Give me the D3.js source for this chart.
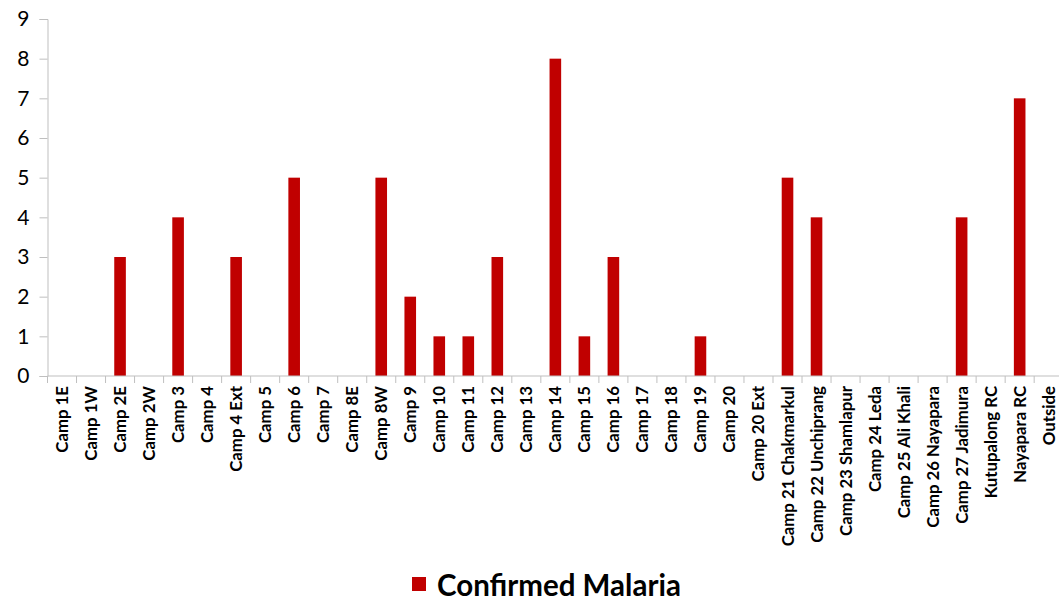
<!DOCTYPE html>
<html>
<head>
<meta charset="utf-8">
<script src="https://cdn.jsdelivr.net/npm/d3@7/dist/d3.min.js"></script>
<style>
  html, body { margin: 0; padding: 0; background: #fff; }
  svg { display: block; }
</style>
</head>
<body>
<script>
// Confirmed malaria cases by camp
const categories = [
  "Camp 1E", "Camp 1W", "Camp 2E", "Camp 2W", "Camp 3", "Camp 4", "Camp 4 Ext",
  "Camp 5", "Camp 6", "Camp 7", "Camp 8E", "Camp 8W", "Camp 9", "Camp 10",
  "Camp 11", "Camp 12", "Camp 13", "Camp 14", "Camp 15", "Camp 16", "Camp 17",
  "Camp 18", "Camp 19", "Camp 20", "Camp 20 Ext", "Camp 21 Chakmarkul",
  "Camp 22 Unchiprang", "Camp 23 Shamlapur", "Camp 24 Leda", "Camp 25 Ali Khali",
  "Camp 26 Nayapara", "Camp 27 Jadimura", "Kutupalong RC", "Nayapara RC", "Outside"
];
const confirmedMalaria = [
  0, 0, 3, 0, 4, 0, 3,
  0, 5, 0, 0, 5, 2, 1,
  1, 3, 0, 8, 1, 3, 0,
  0, 1, 0, 0, 5,
  4, 0, 0, 0,
  0, 4, 0, 7, 0
];
const yTicks = [0, 1, 2, 3, 4, 5, 6, 7, 8, 9];
const seriesName = "Confirmed Malaria";

const W = 1059, H = 601;
const margin = { left: 47.5, top: 19, bottom: 376 };
const plotRight = 1063.2;

const svg = d3.select("body").append("svg")
  .attr("width", W).attr("height", H);

const x = d3.scaleBand()
  .domain(categories)
  .range([margin.left, plotRight])
  .paddingInner(0.6)
  .paddingOuter(0.3);

const y = d3.scaleLinear()
  .domain([0, 9])
  .range([margin.bottom, margin.top]);

const axisColor = "#BFBFBF";

// bars
svg.append("g")
  .selectAll("rect")
  .data(categories)
  .join("rect")
  .attr("x", d => x(d))
  .attr("width", x.bandwidth())
  .attr("y", (d, i) => y(confirmedMalaria[i]))
  .attr("height", (d, i) => y(0) - y(confirmedMalaria[i]))
  .attr("fill", "#C00000");

// y axis
const yAxis = svg.append("g")
  .attr("transform", `translate(${margin.left},0)`)
  .call(d3.axisLeft(y).tickValues(yTicks).tickSize(8).tickPadding(10).tickFormat(d3.format("d")));
yAxis.select(".domain").attr("stroke", axisColor);
yAxis.selectAll(".tick line").attr("stroke", axisColor);
yAxis.selectAll(".tick text")
  .attr("fill", "#000")
  .style("font-family", "Lato, 'Open Sans', sans-serif")
  .style("font-size", "21px");

// x axis with ticks at category boundaries
const boundaries = d3.range(categories.length + 1).map(i => margin.left + i * (plotRight - margin.left) / categories.length);
const xg = svg.append("g");
xg.append("line")
  .attr("x1", margin.left).attr("x2", plotRight)
  .attr("y1", y(0)).attr("y2", y(0))
  .attr("stroke", axisColor).attr("stroke-width", 1);
xg.selectAll("line.tk")
  .data(boundaries)
  .join("line")
  .attr("class", "tk")
  .attr("x1", d => d).attr("x2", d => d)
  .attr("y1", y(0)).attr("y2", y(0) + 7)
  .attr("stroke", axisColor);

xg.selectAll("text.lbl")
  .data(categories)
  .join("text")
  .attr("class", "lbl")
  .attr("transform", d => `translate(${x(d) + x.bandwidth() / 2 + 6},${y(0) + 10}) rotate(-90)`)
  .attr("text-anchor", "end")
  .style("font-family", "Lato, 'Open Sans', sans-serif")
  .style("font-weight", "bold")
  .style("font-size", "16.8px")
  .attr("fill", "#000")
  .text(d => d);

// legend
const lg = svg.append("g").attr("transform", "translate(412,577)");
lg.append("rect").attr("x", 0).attr("y", 0).attr("width", 14).attr("height", 14).attr("fill", "#C00000");
lg.append("text")
  .attr("x", 25).attr("y", 19)
  .style("font-family", "Lato, 'Open Sans', sans-serif")
  .style("font-weight", "bold")
  .style("font-size", "29.5px")
  .attr("fill", "#000")
  .text(seriesName);
</script>
</body>
</html>
